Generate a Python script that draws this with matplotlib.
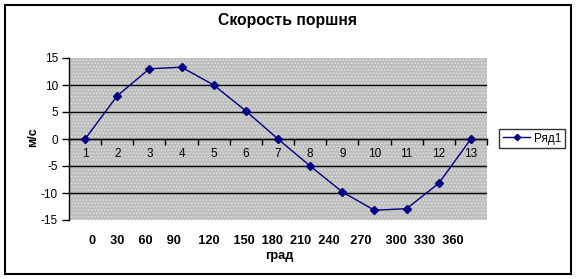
import matplotlib
matplotlib.use("Agg")
import matplotlib.pyplot as plt
from matplotlib.patches import Rectangle
import numpy as np

# ---- data ----
categories = ["1", "2", "3", "4", "5", "6", "7", "8", "9", "10", "11", "12", "13"]
velocity = [0, 8.0, 13.0, 13.3, 10.0, 5.2, 0, -5.0, -9.8, -13.2, -12.9, -8.2, 0]
series_name = "Ряд1"
title = "Скорость поршня"
ylabel = "м/с"
angle_labels = ["0", "30", "60", "90", "120", "150", "180", "210", "240", "270", "300", "330", "360"]
angle_unit = "град"
yticks = [-15, -10, -5, 0, 5, 10, 15]

# ---- layout ----
plt.rcParams['font.family'] = ['Liberation Sans', 'DejaVu Sans']
plt.rcParams['hatch.linewidth'] = 0.6
W, H = 578, 279
fig = plt.figure(figsize=(W / 100, H / 100), dpi=100)
fig.patch.set_facecolor('white')

ax = fig.add_axes([69 / W, 1 - 220 / H, (487 - 69) / W, (220 - 58) / H])
ax.patch.set_facecolor('#bebebe')
ax.patch.set_hatch('.....')
ax.patch.set_edgecolor('#e4e4e4')

x = np.arange(len(categories))
ax.plot(x, velocity, color='#000080', lw=1, marker='D', markersize=4,
        markerfacecolor='#000080', markeredgecolor='#000080', label=series_name, zorder=5)

ax.set_xlim(-0.5, len(categories) - 0.5)
ax.set_ylim(yticks[0], yticks[-1])
ax.set_yticks(yticks)
ax.set_yticklabels([str(v) for v in yticks], fontsize=8.5)
ax.tick_params(axis='y', direction='out', length=5, width=1, pad=3)

# horizontal gridlines (inner only)
ax.yaxis.grid(True, color='black', lw=1)
gl = ax.get_ygridlines()
gl[0].set_visible(False)
gl[-1].set_visible(False)
ax.set_axisbelow(True)

for s in ['top', 'right']:
    ax.spines[s].set_visible(False)
ax.spines['left'].set_linewidth(1)
ax.spines['bottom'].set_position(('data', 0))
ax.spines['bottom'].set_linewidth(1)

# category boundary ticks + centered labels
ax.set_xticks(np.arange(-0.5, len(categories), 1.0))
ax.set_xticklabels([])
ax.tick_params(axis='x', which='major', direction='out', length=4, width=1)
ax.set_xticks(x, minor=True)
ax.set_xticklabels(categories, minor=True, fontsize=8.5)
ax.tick_params(axis='x', which='minor', length=0, pad=6.5)

# title
fig.text(288 / W, 1 - 21 / H, title, ha='center', va='center', fontsize=11.3, fontweight='bold')

# y label
fig.text(33 / W, 1 - 137 / H, ylabel, ha='center', va='center', rotation=90,
         fontsize=9, fontweight='bold')

# x axis title (angles row + unit)
gaps = [4, 4, 4, 5, 4, 2, 2, 2, 3, 4, 2, 2]
row = angle_labels[0]
for g, lab in zip(gaps, angle_labels[1:]):
    row += " " * g + lab
fig.text(276 / W, 1 - 241 / H, row, ha='center', va='center', fontsize=9.2, fontweight='bold')
fig.text(279 / W, 1 - 256 / H, angle_unit, ha='center', va='center', fontsize=9.2, fontweight='bold')

# legend
leg = fig.legend(loc='center', bbox_to_anchor=(532 / W, 1 - 138.5 / H), fontsize=8.5,
                 frameon=True, fancybox=False, handlelength=2.3, borderpad=0.3,
                 handletextpad=0.3, markerscale=0.8)
leg.get_frame().set_edgecolor('black')
leg.get_frame().set_linewidth(1)

# outer border
fig.add_artist(Rectangle((5 / W, 1 - 274 / H), (571 - 5) / W, (274 - 5) / H,
                         transform=fig.transFigure, fill=False, edgecolor='black', lw=1.5))

fig.savefig('out.png', dpi=100)
